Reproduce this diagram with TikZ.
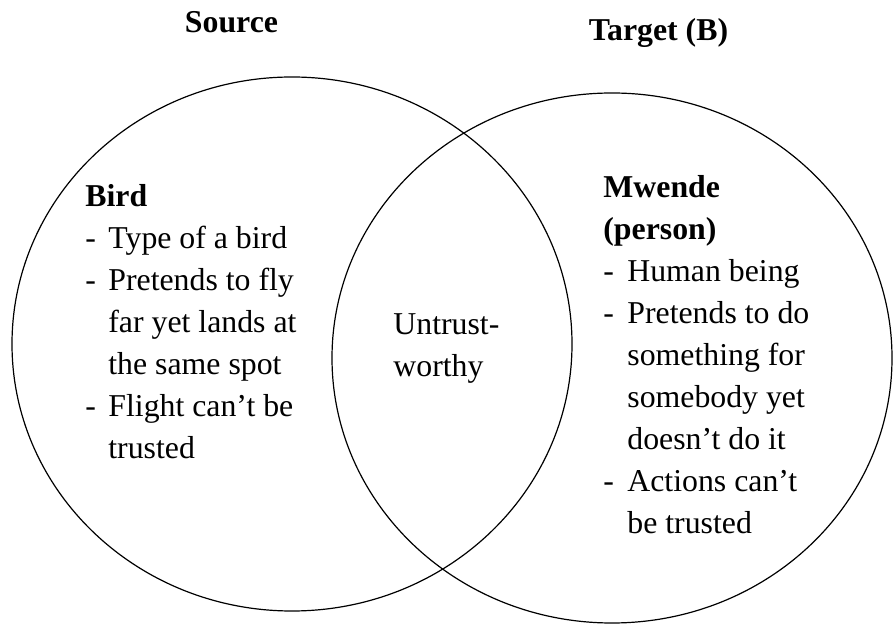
\documentclass[tikz,border=0pt]{standalone}
\usepackage{fontspec}
\setmainfont{Liberation Serif}
\begin{document}
\begin{tikzpicture}[x=0.5pt,y=-0.5pt,
  setline/.style={line width=0.6pt, draw=black},
  title/.style={anchor=base, inner sep=0pt, font=\fontsize{15.9}{21}\selectfont\bfseries},
  block/.style={anchor=base west, inner sep=0pt, font=\fontsize{15.9}{21}\selectfont}]
  \useasboundingbox (0,0) rectangle (894,624);
  % the two overlapping sets
  \draw[setline] (292,344) ellipse [x radius=280, y radius=267];
  \draw[setline] (612,358) ellipse [x radius=280, y radius=265];
  % headings
  \node[title] (src) at (231.5,33) {Source};
  \node[title] (tgt) at (658.5,41) {Target (B)};
  % left set: source domain
  \node[block] (bird) at (85,207) {\begin{tabular}[t]{@{}l@{}}
    \textbf{Bird}\\
    \makebox[11.5pt][l]{-}Type of a bird\\
    \makebox[11.5pt][l]{-}Pretends to fly\\
    \hspace*{11.5pt}far yet lands at\\
    \hspace*{11.5pt}the same spot\\
    \makebox[11.5pt][l]{-}Flight can’t be\\
    \hspace*{11.5pt}trusted
  \end{tabular}};
  % overlap: shared feature
  \node[block] (shared) at (393,335) {\begin{tabular}[t]{@{}l@{}}
    Untrust-\\
    worthy
  \end{tabular}};
  % right set: target domain
  \node[block] (mwende) at (603,198) {\begin{tabular}[t]{@{}l@{}}
    \textbf{Mwende}\\
    \textbf{(person)}\\
    \makebox[12pt][l]{-}Human being\\
    \makebox[12pt][l]{-}Pretends to do\\
    \hspace*{12pt}something for\\
    \hspace*{12pt}somebody yet\\
    \hspace*{12pt}doesn’t do it\\
    \makebox[12pt][l]{-}Actions can’t\\
    \hspace*{12pt}be trusted
  \end{tabular}};
\end{tikzpicture}
\end{document}
